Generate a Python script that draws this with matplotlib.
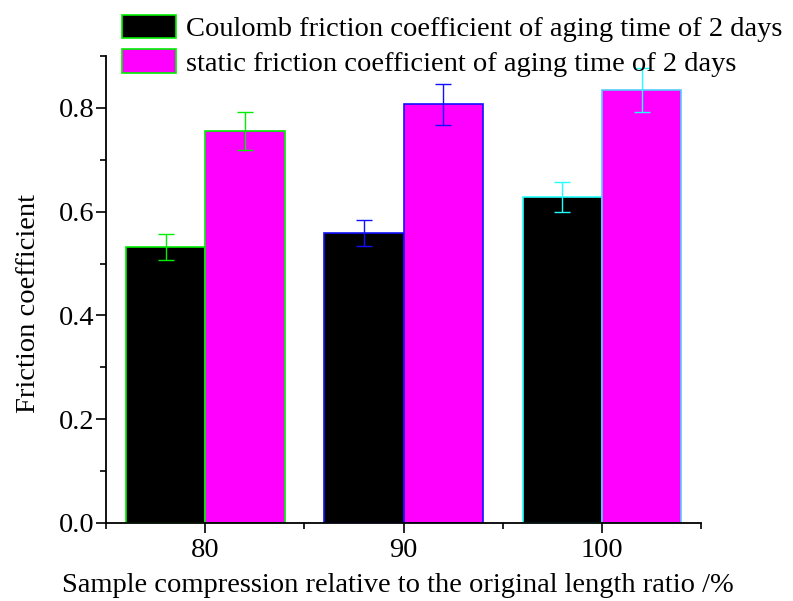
import matplotlib
matplotlib.use("Agg")
import matplotlib.pyplot as plt
import numpy as np
from matplotlib.patches import Patch
from matplotlib.ticker import FixedLocator

plt.rcParams['font.family'] = ['Liberation Serif', 'DejaVu Serif']
plt.rcParams['mathtext.fontset'] = 'stix'

categories = [80, 90, 100]
coulomb = [0.532, 0.558, 0.629]
coulomb_err = [0.025, 0.025, 0.029]
static = [0.755, 0.807, 0.834]
static_err = [0.037, 0.040, 0.042]
group_edges = ['#00ee00', '#1010ff', '#22ffff']
static_edges = ['#00ee00', '#1010ff', '#55ccff']
legend_labels = ['Coulomb friction coefficient of aging time of 2 days',
                 'static friction coefficient of aging time of 2 days']
xlabel = 'Sample compression relative to the original length ratio /%'
ylabel = 'Friction coefficient'

FS = 20.5
fig = plt.figure(figsize=(7.93, 6.01), dpi=100)
ax = fig.add_axes([0.1337, 0.1298, 0.884 - 0.1337, 0.9068 - 0.1298])

width = 4
x = np.array(categories, dtype=float)
for i in range(len(categories)):
    ax.bar(x[i] - width / 2, coulomb[i], width=width, color='black',
           edgecolor=group_edges[i], linewidth=1.2, zorder=2)
    ax.bar(x[i] + width / 2, static[i], width=width, color='#ff00ff',
           edgecolor=static_edges[i], linewidth=1.2, zorder=2)
    ax.errorbar(x[i] - width / 2, coulomb[i], yerr=coulomb_err[i], fmt='none',
                ecolor=group_edges[i], elinewidth=1.0, capsize=5.5, capthick=1.0, zorder=3)
    ax.errorbar(x[i] + width / 2, static[i], yerr=static_err[i], fmt='none',
                ecolor=group_edges[i], elinewidth=1.0, capsize=5.5, capthick=1.0, zorder=3)

ax.set_xlim(75, 105)
ax.set_ylim(0, 0.9)
ax.set_xticks(categories)
ax.set_xticklabels([str(c) for c in categories])
ax.xaxis.set_minor_locator(FixedLocator([75, 85, 95, 105]))
ax.set_yticks([0.0, 0.2, 0.4, 0.6, 0.8])
ax.set_yticklabels(['0.0', '0.2', '0.4', '0.6', '0.8'])
ax.yaxis.set_minor_locator(FixedLocator([0.1, 0.3, 0.5, 0.7, 0.9]))

for s in ['top', 'right']:
    ax.spines[s].set_visible(False)
for s in ['left', 'bottom']:
    ax.spines[s].set_linewidth(1.3)

ax.tick_params(axis='both', which='major', direction='out', length=7, width=1.2,
               labelsize=FS)
ax.tick_params(axis='x', which='major', pad=4)
ax.tick_params(axis='y', which='major', pad=1.5)
ax.tick_params(axis='x', which='minor', direction='out', length=4.5, width=1.2)
ax.tick_params(axis='y', which='minor', direction='out', length=4, width=1.2)

ax.set_xlabel(xlabel, fontsize=FS, labelpad=7)
ax.xaxis.label.set_x(0.491)
ax.set_ylabel(ylabel, fontsize=FS)
ax.yaxis.set_label_coords(-0.11, 0.47)

handles = [Patch(facecolor='black', edgecolor='#00ee00', linewidth=1.2),
           Patch(facecolor='#ff00ff', edgecolor='#00ee00', linewidth=1.2)]
fig.legend(handles, legend_labels, loc='upper left', bbox_to_anchor=(0.150, 0.98),
           frameon=False, fontsize=FS, handlelength=1.9, handleheight=0.88,
           handletextpad=0.35, labelspacing=0.25, borderpad=0.1, borderaxespad=0)

fig.savefig('out.png', dpi=100)
